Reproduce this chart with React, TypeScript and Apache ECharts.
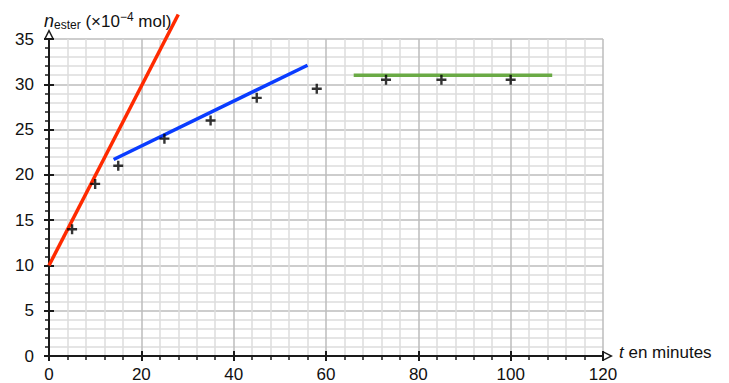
import React, { useEffect, useRef } from "react";
import * as echarts from "echarts";

// Measured points (t in minutes, n_ester in 1e-4 mol)
const timeMinutes = [5, 10, 15, 25, 35, 45, 58, 73, 85, 100];
const nEster = [14, 19, 21, 24, 26, 28.5, 29.5, 30.5, 30.5, 30.5];

// Drawn straight lines (endpoints in data units)
const redTangentT = [0, 28];
const redTangentN = [10, 37.7];
const blueTangentT = [14, 56];
const blueTangentN = [21.7, 32.1];
const greenLineT = [66, 109];
const greenLineN = [31, 31];

// Axes
const xRange = [0, 120];
const xStep = 20;
const yRange = [0, 35];
const yStep = 5;

const FONT = "'Liberation Sans', Arial, Helvetica, sans-serif";
const AXIS_COLOR = "#1a1a1a";
const chevron = "path://M0,10 L5,0 L10,10 L8.4,10 L5,3.2 L1.6,10 Z";
const cross = "path://M3.8,0 H6.2 V3.8 H10 V6.2 H6.2 V10 H3.8 V6.2 H0 V3.8 H3.8 Z";

const pairs = (a: number[], b: number[]) => a.map((v, i) => [v, b[i]]);

export default function App() {
  const ref = useRef<HTMLDivElement>(null);
  useEffect(() => {
    if (!ref.current) return;
    const chart = echarts.init(ref.current, null, { renderer: "svg" });
    const baseX = {
      type: "value" as const,
      min: xRange[0],
      max: xRange[1],
      interval: xStep,
      position: "bottom" as const,
    };
    const baseY = {
      type: "value" as const,
      min: yRange[0],
      max: yRange[1],
      interval: yStep,
      position: "left" as const,
    };
    chart.setOption({
      animation: false,
      grid: { left: 49, right: 126, top: 39, bottom: 26, containLabel: false },
      xAxis: [
        {
          ...baseX,
          axisLine: {
            show: true,
            lineStyle: { color: AXIS_COLOR, width: 2 },
            symbol: ["none", chevron],
            symbolSize: [12, 10],
            symbolOffset: [0, 5],
          },
          axisTick: { show: true, length: 5, lineStyle: { color: AXIS_COLOR, width: 2 } },
          minorTick: { show: true, splitNumber: 5, length: 4, lineStyle: { color: AXIS_COLOR, width: 1.5 } },
          axisLabel: { fontSize: 17, color: "#111", margin: 10, fontFamily: FONT },
          splitLine: { show: true, lineStyle: { color: "#bdbdbd", width: 1.5 } },
          minorSplitLine: { show: true, lineStyle: { color: "#dcdcdc", width: 1.5 } },
        },
        {
          ...baseX,
          axisLine: { show: false },
          axisTick: { show: true, inside: true, length: 5, lineStyle: { color: AXIS_COLOR, width: 2 } },
          axisLabel: { show: false },
          splitLine: { show: false },
        },
      ],
      yAxis: [
        {
          ...baseY,
          axisLine: {
            show: true,
            lineStyle: { color: AXIS_COLOR, width: 2 },
            symbol: ["none", chevron],
            symbolSize: [12, 10],
            symbolOffset: [0, 5],
          },
          axisTick: { show: true, length: 5, lineStyle: { color: AXIS_COLOR, width: 2 } },
          minorTick: { show: true, splitNumber: 5, length: 4, lineStyle: { color: AXIS_COLOR, width: 1.5 } },
          axisLabel: { fontSize: 17, color: "#111", margin: 15, fontFamily: FONT },
          splitLine: { show: true, lineStyle: { color: "#bdbdbd", width: 1.5 } },
          minorSplitLine: { show: true, lineStyle: { color: "#dcdcdc", width: 1.5 } },
        },
        {
          ...baseY,
          axisLine: { show: false },
          axisTick: { show: true, inside: true, length: 5, lineStyle: { color: AXIS_COLOR, width: 2 } },
          axisLabel: { show: false },
          splitLine: { show: false },
        },
      ],
      series: [
        {
          type: "scatter",
          data: pairs(timeMinutes, nEster),
          symbol: cross,
          symbolSize: 10,
          itemStyle: { color: "#000" },
          z: 5,
        },
        {
          type: "line",
          data: pairs(redTangentT, redTangentN),
          showSymbol: false,
          clip: false,
          lineStyle: { color: "#ff2a00", width: 3.5 },
          z: 4,
        },
        {
          type: "line",
          data: pairs(blueTangentT, blueTangentN),
          showSymbol: false,
          lineStyle: { color: "#0a3cff", width: 3.5 },
          z: 4,
        },
        {
          type: "line",
          data: pairs(greenLineT, greenLineN),
          showSymbol: false,
          lineStyle: { color: "#6aaa45", width: 3.5 },
          z: 4,
        },
      ],
      graphic: [
        {
          type: "text",
          left: 44,
          top: 11,
          style: {
            text: "{n|n}{s|ester}{r| (×10}{p|−4}{r| mol)}",
            fill: "#111",
            rich: {
              n: { fontSize: 18, fontStyle: "italic", fontFamily: FONT, fill: "#111" },
              s: { fontSize: 12, fontFamily: FONT, fill: "#111", padding: [7, 0, 0, 0] },
              r: { fontSize: 17, fontFamily: FONT, fill: "#111" },
              p: { fontSize: 12, fontFamily: FONT, fill: "#111", padding: [0, 0, 8, 0] },
            },
          },
        },
        {
          type: "text",
          left: 619,
          top: 344,
          style: {
            text: "{t|t} en minutes",
            fontSize: 17,
            fontFamily: FONT,
            fill: "#111",
            rich: {
              t: { fontSize: 17, fontStyle: "italic", fontFamily: FONT, fill: "#111" },
            },
          },
        },
      ],
    });
    return () => chart.dispose();
  }, []);
  return (
    <div
      ref={ref}
      style={{ position: "absolute", left: 0, top: 0, width: 729, height: 383 }}
    />
  );
}
